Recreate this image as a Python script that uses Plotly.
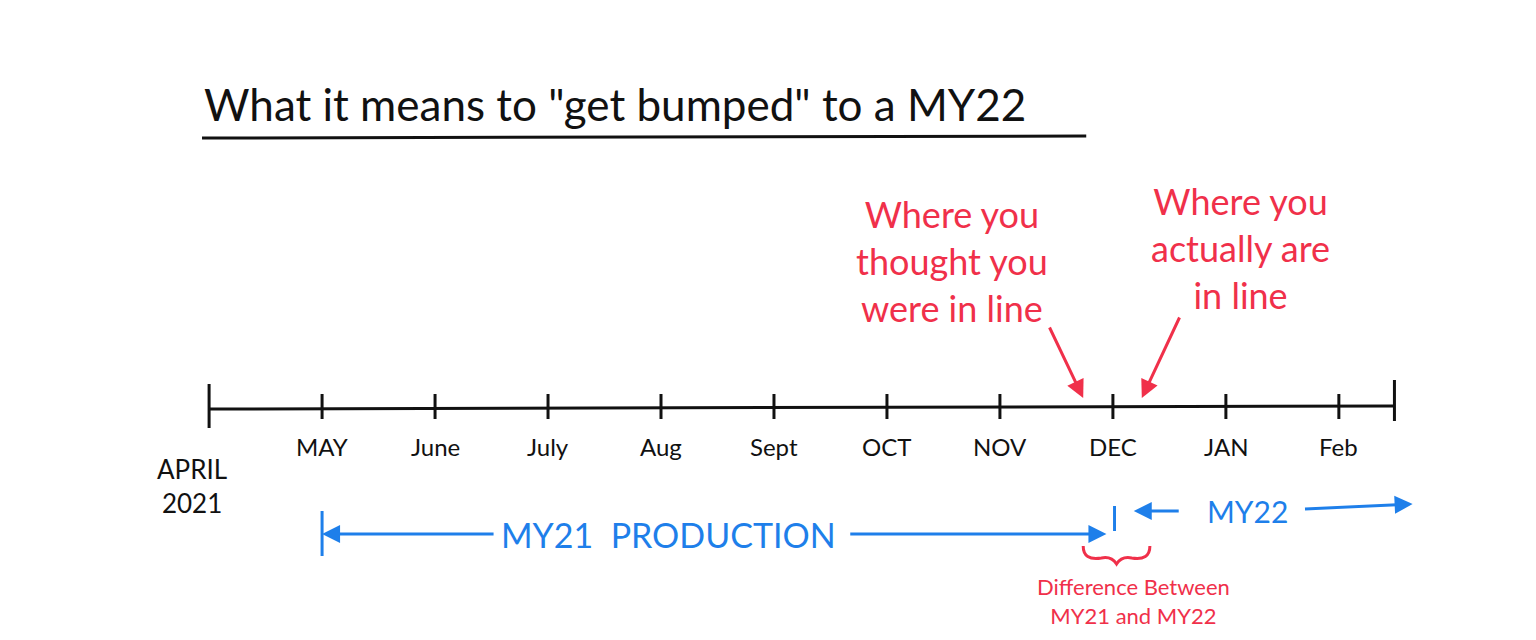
import plotly.graph_objects as go

months = ["MAY", "June", "July", "Aug", "Sept", "OCT", "NOV", "DEC", "JAN", "Feb"]
month_index = [1, 2, 3, 4, 5, 6, 7, 8, 9, 10]
start_label = "APRIL<br>2021"
title = "What it means to \"get bumped\" to a MY22"
red_left = "Where you<br>thought you<br>were in line"
red_right = "Where you<br>actually are<br>in line"
diff_text = "Difference Between<br>MY21 and MY22"

BLACK = "#111111"
RED = "#f0304a"
BLUE = "#1e7fea"
FONT = "Comic Sans MS, Lato, sans-serif"

px = 111.8
OFF = 8
x0 = -(207 - OFF) / px
x1 = (1536 - 207 - OFF) / px
def X(p):
    return (p - 207) / px

fig = go.Figure()
fig.add_trace(go.Scatter(x=[x0, x1], y=[0, 0], mode="markers", marker=dict(opacity=0), hoverinfo="skip", showlegend=False))

shapes = []
shapes.append(dict(type="line", x0=0, x1=X(1380), y0=393, y1=390, line=dict(color=BLACK, width=3)))
shapes.append(dict(type="line", x0=0, x1=0, y0=368, y1=412, line=dict(color=BLACK, width=3)))
shapes.append(dict(type="line", x0=X(1380), x1=X(1380), y0=364, y1=405, line=dict(color=BLACK, width=3)))
for m in month_index:
    shapes.append(dict(type="line", x0=m, x1=m, y0=378, y1=403, line=dict(color=BLACK, width=3)))
shapes.append(dict(type="line", x0=X(200), x1=X(1075), y0=122, y1=120, line=dict(color=BLACK, width=3)))
shapes.append(dict(type="line", x0=1, x1=1, y0=495, y1=540, line=dict(color=BLUE, width=3)))
shapes.append(dict(type="line", x0=X(1103), x1=X(1103), y0=490, y1=515, line=dict(color=BLUE, width=3)))
shapes.append(dict(type="path", path=f"M {X(1072)},530 Q {X(1072)},545 {X(1090)},542 Q {X(1100)},540 {X(1105)},548 Q {X(1110)},540 {X(1120)},542 Q {X(1138)},545 {X(1138)},530",
                   line=dict(color=RED, width=3)))

ann = []
ann.append(dict(x=X(200), y=88, text=title, showarrow=False, xanchor="left", font=dict(size=44, color=BLACK, family=FONT)))
for m, lab in zip(month_index, months):
    ann.append(dict(x=m, y=430, text=lab, showarrow=False, font=dict(size=24, color=BLACK, family=FONT)))
ann.append(dict(x=X(190), y=470, text=start_label, showarrow=False, font=dict(size=26, color=BLACK, family=FONT)))
ann.append(dict(x=1, y=518, ax=X(490), ay=518, axref="x", ayref="y", text="", showarrow=True,
                arrowhead=2, arrowsize=1.2, arrowwidth=3, arrowcolor=BLUE))
ann.append(dict(x=X(1095), y=518, ax=X(840), ay=518, axref="x", ayref="y", text="", showarrow=True,
                arrowhead=2, arrowsize=1.2, arrowwidth=3, arrowcolor=BLUE))
ann.append(dict(x=X(662), y=518, text="MY21  PRODUCTION", showarrow=False, font=dict(size=34, color=BLUE, family=FONT)))
ann.append(dict(x=X(1122), y=495, ax=X(1168), ay=495, axref="x", ayref="y", text="", showarrow=True,
                arrowhead=2, arrowsize=1.2, arrowwidth=3, arrowcolor=BLUE))
ann.append(dict(x=X(1235), y=495, text="MY22", showarrow=False, font=dict(size=30, color=BLUE, family=FONT)))
ann.append(dict(x=X(1398), y=488, ax=X(1290), ay=493, axref="x", ayref="y", text="", showarrow=True,
                arrowhead=2, arrowsize=1.2, arrowwidth=3, arrowcolor=BLUE))
ann.append(dict(x=X(942), y=245, text=red_left, showarrow=False, font=dict(size=36, color=RED, family=FONT)))
ann.append(dict(x=X(1228), y=232, text=red_right, showarrow=False, font=dict(size=36, color=RED, family=FONT)))
ann.append(dict(x=X(1072), y=382, ax=X(1038), ay=310, axref="x", ayref="y", text="", showarrow=True,
                arrowhead=2, arrowsize=1.2, arrowwidth=3, arrowcolor=RED))
ann.append(dict(x=X(1130), y=382, ax=X(1168), ay=300, axref="x", ayref="y", text="", showarrow=True,
                arrowhead=2, arrowsize=1.2, arrowwidth=3, arrowcolor=RED))
ann.append(dict(x=X(1122), y=585, text=diff_text, showarrow=False, font=dict(size=22, color=RED, family=FONT)))

fig.update_layout(width=1536, height=640, margin=dict(l=0, r=0, t=0, b=0),
                  paper_bgcolor="white", plot_bgcolor="white", shapes=shapes, annotations=ann,
                  xaxis=dict(range=[x0, x1], visible=False, fixedrange=True),
                  yaxis=dict(range=[640 - OFF, -OFF], visible=False, fixedrange=True))
fig.write_html("out.html")
